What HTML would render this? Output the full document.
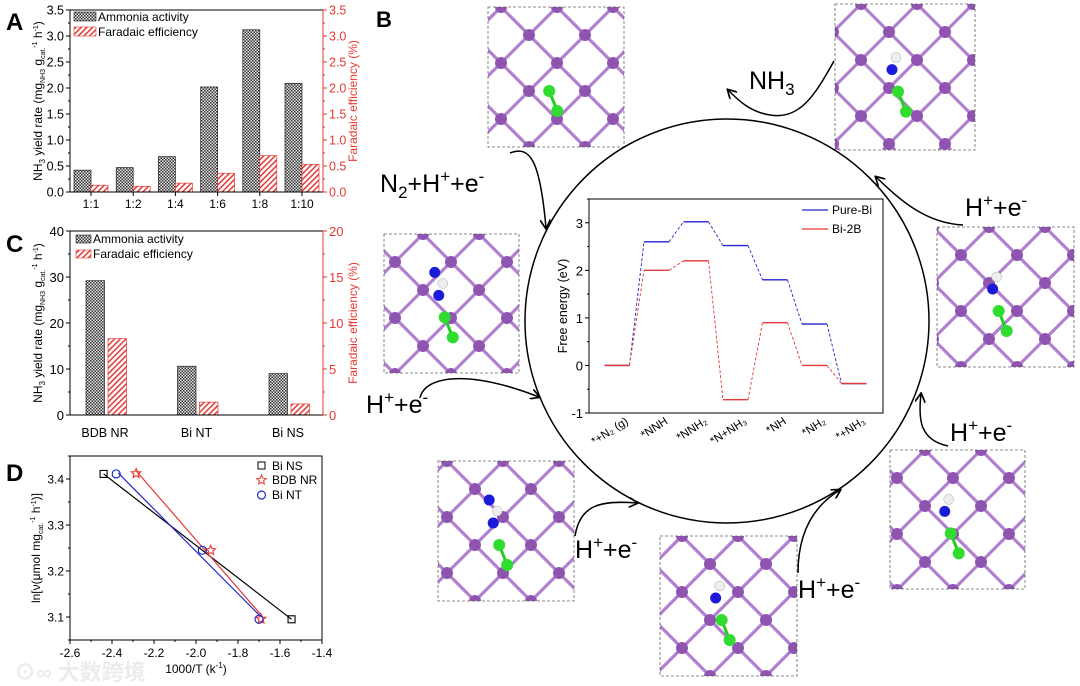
<!DOCTYPE html>
<html><head><meta charset="utf-8"><style>
html,body{margin:0;padding:0;background:#fff;}
svg{display:block;font-family:"Liberation Sans","Noto Sans CJK SC",sans-serif;}
</style></head><body>
<svg id="fig" width="1080" height="686" viewBox="0 0 1080 686" xmlns="http://www.w3.org/2000/svg">
<defs>
<pattern id="chk" width="3" height="3" patternUnits="userSpaceOnUse"><rect width="3" height="3" fill="#e8e8e8"/><rect width="1.5" height="1.5" fill="#333"/><rect x="1.5" y="1.5" width="1.5" height="1.5" fill="#333"/></pattern>
<pattern id="hatch" width="4" height="4" patternUnits="userSpaceOnUse" patternTransform="rotate(45)"><rect width="4" height="4" fill="#fff"/><rect width="1.5" height="4" fill="#e53935"/></pattern>
<marker id="ah" viewBox="0 0 10 10" refX="8" refY="5" markerWidth="7" markerHeight="7" orient="auto-start-reverse"><path d="M0,0 L9,5 L0,10" fill="none" stroke="#000" stroke-width="1.6"/></marker>
</defs>
<g id="root"></g>
</svg>
<script>
// ---------- Panel A data ----------
const catsA = ["1:1","1:2","1:4","1:6","1:8","1:10"];
const ammoniaA = [0.42,0.47,0.68,2.02,3.12,2.09];
const feA = [0.13,0.11,0.17,0.36,0.70,0.53];
const ticksA = [0,0.5,1.0,1.5,2.0,2.5,3.0,3.5];
// ---------- Panel C data ----------
const catsC = ["BDB NR","Bi NT","Bi NS"];
const ammoniaC = [29.2,10.6,9.0];
const feC = [8.3,1.4,1.2];
const ticksCL = [0,10,20,30,40];
const ticksCR = [0,5,10,15,20];
// ---------- Panel D data ----------
const biNSx = [-2.44,-1.97,-1.545];
const biNSy = [3.411,3.245,3.095];
const bdbx = [-2.285,-1.93,-1.69];
const bdby = [3.412,3.245,3.096];
const biNTx = [-2.38,-1.97,-1.70];
const biNTy = [3.411,3.245,3.095];
const ticksDx = [-2.6,-2.4,-2.2,-2.0,-1.8,-1.6,-1.4];
const ticksDy = [3.1,3.2,3.3,3.4];
// ---------- Energy diagram data ----------
const states = ["*+N\u2082 (g)","*NNH","*NNH\u2082","*N+NH\u2083","*NH","*NH\u2082","*+NH\u2083"];
const pureBi = [0,2.6,3.02,2.52,1.8,0.87,-0.38];
const bi2B = [0,2.0,2.2,-0.72,0.9,0.0,-0.38];
const ticksE = [-1,0,1,2,3];

const NS="http://www.w3.org/2000/svg";
const root=document.getElementById('root');
function el(tag,attrs,parent,text){const e=document.createElementNS(NS,tag);for(const k in attrs)e.setAttribute(k,attrs[k]);if(text!==undefined)e.textContent=text;(parent||root).appendChild(e);return e;}
function grp(name,parent){const g=el('g',{},parent);return g;}
function fmt1(v){return v.toFixed(1);}

// ===== Panel A =====
(function(){
 const g=grp('panel-a');
 const L=70,R=323,T=10,B=192,max=3.5;
 const y=v=>B-(v/max)*(B-T);
 const xc=i=>L+21+i*42.2;
 el('text',{x:6,y:30,'font-size':24,'font-weight':'bold'},g,'A');
 catsA.forEach((c,i)=>{
  const b=el('rect',{x:xc(i)-17,y:y(ammoniaA[i]),width:17,height:B-y(ammoniaA[i]),fill:'url(#chk)',stroke:'#222','stroke-width':0.7},g);
  
  const r=el('rect',{x:xc(i),y:y(feA[i]),width:17,height:B-y(feA[i]),fill:'url(#hatch)',stroke:'#e53935','stroke-width':0.7},g);
  
  const t=el('text',{x:xc(i),y:208,'font-size':12,'text-anchor':'middle'},g,c);
  
  el('line',{x1:xc(i),x2:xc(i),y1:B,y2:B+4,stroke:'#000'},g);
 });
 el('path',{d:`M${L},${T}H${R}M${L},${B}H${R}M${L},${T}V${B}`,stroke:'#000',fill:'none','stroke-width':1},g);
 el('line',{x1:R,x2:R,y1:T,y2:B,stroke:'#e53935','stroke-width':1},g);
 ticksA.forEach(v=>{
  el('line',{x1:L-4,x2:L,y1:y(v),y2:y(v),stroke:'#000'},g);
  el('line',{x1:L-2,x2:L,y1:y(v+0.25),y2:y(v+0.25),stroke:'#000'},g);
  const t=el('text',{x:L-6,y:y(v)+4.5,'font-size':12.5,'text-anchor':'end'},g,fmt1(v));
  el('line',{x1:R,x2:R+4,y1:y(v),y2:y(v),stroke:'#e53935'},g);
  el('line',{x1:R,x2:R+2,y1:y(v+0.25),y2:y(v+0.25),stroke:'#e53935'},g);
  const t2=el('text',{x:R+6,y:y(v)+4.5,'font-size':12.5,fill:'#e53935'},g,fmt1(v));
 });
 const yt=el('text',{transform:'translate(42,101) rotate(-90)','font-size':12,'text-anchor':'middle'},g);
 
 yt.innerHTML='NH<tspan font-size="8" dy="3">3</tspan><tspan dy="-3"> yield rate (mg</tspan><tspan font-size="7" dy="3">NH3</tspan><tspan dy="-3"> g</tspan><tspan font-size="7" dy="3">cat.</tspan><tspan font-size="7" dy="-8">-1</tspan><tspan dy="5"> h</tspan><tspan font-size="7" dy="-4">-1</tspan><tspan dy="4">)</tspan>';
 const yr=el('text',{transform:'translate(357,101) rotate(-90)','font-size':12,'text-anchor':'middle',fill:'#e53935'},g,'Faradaic efficiency (%)');
 
 const lg=grp('legend-a',g);
 el('rect',{x:74,y:12,width:22,height:9,fill:'url(#chk)',stroke:'#222','stroke-width':0.6},lg);
 el('text',{x:98,y:21,'font-size':12},lg,'Ammonia activity');
 el('rect',{x:74,y:27,width:22,height:9,fill:'url(#hatch)',stroke:'#e53935','stroke-width':0.6},lg);
 el('text',{x:98,y:36,'font-size':12},lg,'Faradaic efficiency');
})();

// ===== Panel C =====
(function(){
 const g=grp('panel-c');
 const L=70,R=323,T=231,B=415;
 const y=v=>B-(v/40)*(B-T), y2=v=>B-(v/20)*(B-T);
 const xc=i=>L+35+i*91.5;
 el('text',{x:6,y:252,'font-size':24,'font-weight':'bold'},g,'C');
 catsC.forEach((c,i)=>{
  const b=el('rect',{x:xc(i)-19,y:y(ammoniaC[i]),width:18.5,height:B-y(ammoniaC[i]),fill:'url(#chk)',stroke:'#222','stroke-width':0.7},g);
  
  const r=el('rect',{x:xc(i)+3,y:y2(feC[i]),width:18.5,height:B-y2(feC[i]),fill:'url(#hatch)',stroke:'#e53935','stroke-width':0.7},g);
  
  const t=el('text',{x:xc(i),y:437,'font-size':12.5,'text-anchor':'middle'},g,c);
 });
 el('path',{d:`M${L},${T}H${R}M${L},${B}H${R}M${L},${T}V${B}`,stroke:'#000',fill:'none'},g);
 el('line',{x1:R,x2:R,y1:T,y2:B,stroke:'#e53935'},g);
 ticksCL.forEach(v=>{el('line',{x1:L-4,x2:L,y1:y(v),y2:y(v),stroke:'#000'},g);
  if(v<40)el('line',{x1:L-2,x2:L,y1:y(v+5),y2:y(v+5),stroke:'#000'},g);
  el('text',{x:L-6,y:y(v)+5,'font-size':13,'text-anchor':'end'},g,String(v));});
 ticksCR.forEach(v=>{el('line',{x1:R,x2:R+4,y1:y2(v),y2:y2(v),stroke:'#e53935'},g);
  if(v<20)el('line',{x1:R,x2:R+2,y1:y2(v+2.5),y2:y2(v+2.5),stroke:'#e53935'},g);
  el('text',{x:R+6,y:y2(v)+5,'font-size':13,fill:'#e53935'},g,String(v));});
 const yt=el('text',{transform:'translate(42,323) rotate(-90)','font-size':12,'text-anchor':'middle'},g);
 
 yt.innerHTML='NH<tspan font-size="8" dy="3">3</tspan><tspan dy="-3"> yield rate (mg</tspan><tspan font-size="7" dy="3">NH3</tspan><tspan dy="-3"> g</tspan><tspan font-size="7" dy="3">cat.</tspan><tspan font-size="7" dy="-8">-1</tspan><tspan dy="5"> h</tspan><tspan font-size="7" dy="-4">-1</tspan><tspan dy="4">)</tspan>';
 el('text',{transform:'translate(357,323) rotate(-90)','font-size':12,'text-anchor':'middle',fill:'#e53935'},g,'Faradaic efficiency (%)');
 const lg=grp('legend-c',g);
 el('rect',{x:76,y:235,width:15,height:8,fill:'url(#chk)',stroke:'#222','stroke-width':0.6},lg);
 el('text',{x:93,y:243,'font-size':12},lg,'Ammonia activity');
 el('rect',{x:76,y:250,width:15,height:8,fill:'url(#hatch)',stroke:'#e53935','stroke-width':0.6},lg);
 el('text',{x:93,y:258,'font-size':12},lg,'Faradaic efficiency');
})();

// ===== Panel D =====
(function(){
 const g=grp('panel-d');
 const L=70,R=322,T=456,B=640;
 const x=v=>L+(v+2.6)/1.2*(R-L);
 const y=v=>B-(v-3.05)/0.4*(B-T);
 el('text',{x:6,y:481,'font-size':24,'font-weight':'bold'},g,'D');
 el('rect',{x:L,y:T,width:R-L,height:B-T,fill:'none',stroke:'#000'},g);
 ticksDx.forEach(v=>{el('line',{x1:x(v),x2:x(v),y1:B,y2:B+4,stroke:'#000'},g);
  if(v<-1.5)el('line',{x1:x(v+0.1),x2:x(v+0.1),y1:B,y2:B+2,stroke:'#000'},g);
  el('text',{x:x(v),y:B+17,'font-size':12,'text-anchor':'middle'},g,v.toFixed(1));});
 ticksDy.forEach(v=>{el('line',{x1:L-4,x2:L,y1:y(v),y2:y(v),stroke:'#000'},g);
  el('line',{x1:L-2,x2:L,y1:y(v+0.05),y2:y(v+0.05),stroke:'#000'},g);
  el('text',{x:L-6,y:y(v)+4.5,'font-size':12,'text-anchor':'end'},g,v.toFixed(1));});
 el('line',{x1:L-2,x2:L,y1:y(3.05),y2:y(3.05),stroke:'#000'},g);
 const xt=el('text',{x:196,y:673,'font-size':12,'text-anchor':'middle'},g);
 xt.innerHTML='1000/T (k<tspan font-size="8" dy="-5">-1</tspan><tspan dy="5">)</tspan>';
 const yt=el('text',{transform:'translate(40,548) rotate(-90)','font-size':12,'text-anchor':'middle'},g);
 yt.innerHTML='ln[ν(μmol mg<tspan font-size="7" dy="3">cat.</tspan><tspan font-size="7" dy="-8">-1</tspan><tspan dy="5"> h</tspan><tspan font-size="7" dy="-4">-1</tspan><tspan dy="4">)]</tspan>';
 function fitLine(xs,ys,col,name,x0,x1){const n=xs.length;let mx=0,my=0;xs.forEach((v,i)=>{mx+=v;my+=ys[i];});mx/=n;my/=n;let sxy=0,sxx=0;xs.forEach((v,i)=>{sxy+=(v-mx)*(ys[i]-my);sxx+=(v-mx)*(v-mx);});const m=sxy/sxx,b=my-m*mx;
  const l=el('line',{x1:x(x0),y1:y(m*x0+b),x2:x(x1),y2:y(m*x1+b),stroke:col,'stroke-width':1.2},g);}
 fitLine(biNSx,biNSy,'#000','fit-line-bi-ns',biNSx[0],biNSx[2]);
 fitLine(bdbx,bdby,'#e53935','fit-line-bdb-nr',bdbx[0],bdbx[2]);
 fitLine(biNTx,biNTy,'#1f2bc8','fit-line-bi-nt',biNTx[0]+0.01,biNTx[2]+0.01);
 function star(cx,cy,r){let p='';for(let k=0;k<10;k++){const a=-Math.PI/2+k*Math.PI/5,rr=k%2?r*0.45:r;p+=(k?'L':'M')+(cx+rr*Math.cos(a)).toFixed(1)+','+(cy+rr*Math.sin(a)).toFixed(1);}return p+'Z';}
 biNSx.forEach((v,i)=>{if(i===1)return;const m=el('rect',{x:x(v)-3.5,y:y(biNSy[i])-3.5,width:7,height:7,fill:'none',stroke:'#000','stroke-width':1.1},g);});
 bdbx.forEach((v,i)=>{const m=el('path',{d:star(x(v),y(bdby[i]),5),fill:'none',stroke:'#e53935','stroke-width':1.1},g);});
 biNTx.forEach((v,i)=>{const m=el('circle',{cx:x(v),cy:y(biNTy[i]),r:4,fill:'none',stroke:'#1f2bc8','stroke-width':1.2},g);});
 const lg=grp('legend-d',g);
 el('rect',{x:258,y:462,width:7,height:7,fill:'none',stroke:'#000'},lg);el('text',{x:272,y:470,'font-size':12},lg,'Bi NS');
 el('path',{d:star(261.5,480,5),fill:'none',stroke:'#e53935'},lg);el('text',{x:272,y:484,'font-size':12},lg,'BDB NR');
 el('circle',{cx:261.5,cy:495,r:4,fill:'none',stroke:'#1f2bc8','stroke-width':1.2},lg);el('text',{x:272,y:499,'font-size':12},lg,'Bi NT');
 const w=el('text',{x:14,y:680,'font-size':22,fill:'#ececec','font-weight':'bold'},g,'\u2299\u221E 大数跨境');
})();

// ===== Panel B structures =====
const boxes=[[488,7,136,140,1],[835,4,140,146,2],[384,234,135,139,3],[937,227,137,140,4],[438,461,136,140,5],[660,536,137,140,6],[890,450,135,139,7]];
(function(){
 const g=grp('panel-b');
 el('text',{x:376,y:27,'font-size':22,'font-weight':'bold'},g,'B');
 boxes.forEach((bx,idx)=>{
  const [bx0,by0,w,h,k]=bx;
  const sg=grp('structure-'+k,g);
  const cid='clip'+k;const cp=el('clipPath',{id:cid},sg);el('rect',{x:bx0,y:by0,width:w,height:h},cp);
  const inner=el('g',{'clip-path':`url(#${cid})`},sg);
  const s=56,off=(k*13)%s;
  for(let n=-6;n<10;n++){const d=n*s;
   el('line',{x1:bx0+d+off,y1:by0,x2:bx0+d+off+h,y2:by0+h,stroke:'#b07fd0','stroke-width':3.2},inner);
   el('line',{x1:bx0+d+off,y1:by0,x2:bx0+d+off-h,y2:by0+h,stroke:'#b07fd0','stroke-width':3.2},inner);
  }
  for(let r=0;r*s/2<h+s;r++){const yy=by0+r*s/2;for(let m=-4;m<6;m++){const cx=bx0+off+m*s+(r%2?s/2:0);el('circle',{cx:cx,cy:yy,r:6,fill:'#8e54b0'},inner);}}
  const cx=bx0+w*0.45,cy=by0+h*0.6;
  el('line',{x1:cx,y1:cy,x2:cx+8,y2:cy+20,stroke:'#22cc22','stroke-width':3},inner);
  el('circle',{cx:cx,cy:cy,r:6,fill:'#2fdc2f'},inner);el('circle',{cx:cx+8,cy:cy+20,r:6,fill:'#2fdc2f'},inner);
  if(k>=2){el('circle',{cx:cx-6,cy:cy-22,r:5.5,fill:'#1a1ad8'},inner);el('circle',{cx:cx-2,cy:cy-34,r:5,fill:'#eee',stroke:'#aaa','stroke-width':0.5},inner);}
  if(k===3||k===5){el('circle',{cx:cx-10,cy:cy-45,r:5.5,fill:'#1a1ad8'},inner);}
  el('rect',{x:bx0,y:by0,width:w,height:h,fill:'none',stroke:'#666','stroke-width':0.8,'stroke-dasharray':'3,2'},sg);
 });
 const circ=el('circle',{cx:727,cy:321,r:202,fill:'none',stroke:'#000','stroke-width':1.5},g);
 
 const arrows=[['M834,61 C815,95 800,120 770,115 C750,112 738,100 728,90','arrow-nh3'],
  ['M510,153 C530,145 540,160 546,228','arrow-n2'],
  ['M963,225 C925,223 900,200 876,177','arrow-right-top'],
  ['M420,398 C425,375 470,370 539,397','arrow-left'],
  ['M575,536 C580,505 600,500 637,503','arrow-bottom-left'],
  ['M798,573 C798,530 815,505 840,490','arrow-bottom-center'],
  ['M948,446 C920,440 918,420 921,394','arrow-right-lower']];
 arrows.forEach(a=>{const p=el('path',{d:a[0],fill:'none',stroke:'#000','stroke-width':1.5,'marker-end':'url(#ah)'},g);});
 const labs=[[749,89,'NH<tspan font-size="17" dy="6">3</tspan>','label-nh3'],
  [380,192,'N<tspan font-size="17" dy="6">2</tspan><tspan dy="-6">+H</tspan><tspan font-size="17" dy="-10">+</tspan><tspan dy="10">+e</tspan><tspan font-size="17" dy="-10">-</tspan>','label-n2'],
  [965,216,'H<tspan font-size="17" dy="-10">+</tspan><tspan dy="10">+e</tspan><tspan font-size="17" dy="-10">-</tspan>','label-h-right-top'],
  [366,413,'H<tspan font-size="17" dy="-10">+</tspan><tspan dy="10">+e</tspan><tspan font-size="17" dy="-10">-</tspan>','label-h-left'],
  [575,558,'H<tspan font-size="17" dy="-10">+</tspan><tspan dy="10">+e</tspan><tspan font-size="17" dy="-10">-</tspan>','label-h-bottom-left'],
  [798,598,'H<tspan font-size="17" dy="-10">+</tspan><tspan dy="10">+e</tspan><tspan font-size="17" dy="-10">-</tspan>','label-h-bottom-center'],
  [950,441,'H<tspan font-size="17" dy="-10">+</tspan><tspan dy="10">+e</tspan><tspan font-size="17" dy="-10">-</tspan>','label-h-right-lower']];
 labs.forEach(l=>{const t=el('text',{x:l[0],y:l[1],'font-size':25},g);t.innerHTML=l[2];});
})();

// ===== Energy diagram =====
(function(){
 const g=grp('energy-diagram');
 const L=589,R=883,T=199,B=413;
 el('rect',{x:L,y:T,width:R-L,height:B-T,fill:'#fff',stroke:'#000'},g);
 const y=v=>B-(v+1)/4.5*(B-T);
 const xs=i=>617+i*39.5;
 ticksE.forEach(v=>{el('line',{x1:L-4,x2:L,y1:y(v),y2:y(v),stroke:'#000'},g);
  el('line',{x1:L-2,x2:L,y1:y(v+0.5),y2:y(v+0.5),stroke:'#000'},g);
  el('text',{x:L-6,y:y(v)+5,'font-size':13,'text-anchor':'end'},g,String(v));});
 el('text',{transform:`translate(567,${(T+B)/2}) rotate(-90)`,'font-size':12.5,'text-anchor':'middle'},g,'Free energy (eV)');
 function series(vals,col,name){
  vals.forEach((v,i)=>{const l=el('line',{x1:xs(i)-12.5,x2:xs(i)+12.5,y1:y(v),y2:y(v),stroke:col,'stroke-width':1.4},g);
   if(i<vals.length-1){const d=el('line',{x1:xs(i)+12.5,y1:y(v),x2:xs(i+1)-12.5,y2:y(vals[i+1]),stroke:col,'stroke-width':0.9,'stroke-dasharray':'3,2'},g);}});
 }
 series(pureBi,'#2323d0','pure-bi');
 series(bi2B,'#e53935','bi-2b');
 states.forEach((s,i)=>{const t=el('text',{transform:`translate(${xs(i)+12},${B+10}) rotate(-33)`,'font-size':11.5,'text-anchor':'end'},g,s);});
 const lg=grp('legend-energy',g);
 el('line',{x1:802,x2:828,y1:210,y2:210,stroke:'#2323d0','stroke-width':1.3},lg);el('text',{x:832,y:214,'font-size':12},lg,'Pure-Bi');
 el('line',{x1:802,x2:828,y1:229,y2:229,stroke:'#e53935','stroke-width':1.3},lg);el('text',{x:832,y:233,'font-size':12},lg,'Bi-2B');
})();
</script>
</body></html>
